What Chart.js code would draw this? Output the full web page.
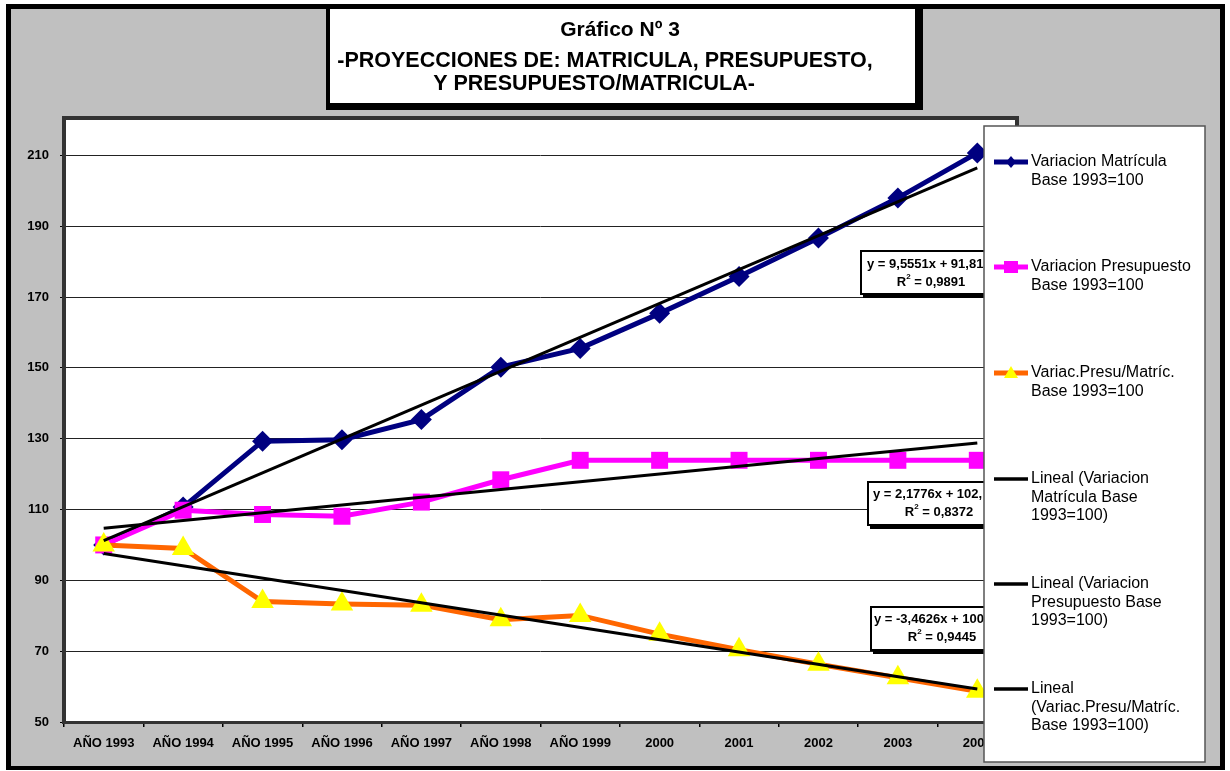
<!DOCTYPE html>
<html>
<head>
<meta charset="utf-8">
<title>Gráfico Nº 3</title>
<script src="https://cdn.jsdelivr.net/npm/chart.js@4"></script>
<style>
  html, body { margin: 0; padding: 0; background: #fff; }
  canvas { display: block; }
</style>
</head>
<body>
<canvas id="myChart" width="1230" height="771"></canvas>
<script>
// Categorias del eje X
const categorias = ["AÑO 1993", "AÑO 1994", "AÑO 1995", "AÑO 1996", "AÑO 1997", "AÑO 1998", "AÑO 1999", "2000", "2001", "2002", "2003", "2004"];
// Series (base 1993 = 100)
const matricula = [100, 110.7, 129.3, 129.7, 135.4, 150.2, 155.5, 165.4, 175.8, 186.7, 198.0, 210.7];
const presupuesto = [100, 109.8, 108.6, 108.1, 112.1, 118.4, 123.9, 123.9, 123.9, 123.9, 123.9, 123.9];
const presuMatric = [100, 99.0, 84.0, 83.3, 83.0, 78.9, 80.1, 74.8, 70.4, 66.3, 62.5, 58.7];
// Lineas de tendencia: solo los extremos
const tendMatricula = [101.2, null, null, null, null, null, null, null, null, null, null, 206.5];
const tendPresupuesto = [104.7, null, null, null, null, null, null, null, null, null, null, 128.8];
const tendPresuMatric = [97.6, null, null, null, null, null, null, null, null, null, null, 59.3];
// Marcas del eje Y
const yTicks = [50, 70, 90, 110, 130, 150, 170, 190, 210];
// Textos de las ecuaciones de tendencia
const ecuaciones = ["y = 9,5551x + 91,81", "y = 2,1776x + 102,", "y = -3,4626x + 100"];
const r2 = ["0,9891", "0,8372", "0,9445"];
// Textos de la leyenda
const leyendaTextos = [
    ["Variacion Matrícula", "Base 1993=100"],
    ["Variacion Presupuesto", "Base 1993=100"],
    ["Variac.Presu/Matríc.", "Base 1993=100"],
    ["Lineal (Variacion", "Matrícula Base", "1993=100)"],
    ["Lineal (Variacion", "Presupuesto Base", "1993=100)"],
    ["Lineal", "(Variac.Presu/Matríc.", "Base 1993=100)"]
];

const FUENTE = "'Liberation Sans', Arial, sans-serif";
Chart.defaults.font.family = FUENTE;
Chart.defaults.color = "#000";

// Fondo: marco negro, gris, area de trazado blanca
const fondo = {
    id: "fondo",
    beforeDraw(chart) {
        let c = chart.ctx;
        c.save();
        c.fillStyle = "#fff";
        c.fillRect(0, 0, chart.width, chart.height);
        c.fillStyle = "#000";
        c.fillRect(6, 4, 1219, 766);
        c.fillStyle = "#c0c0c0";
        c.fillRect(11, 9, 1209, 757);
        c.fillStyle = "#fff";
        c.fillRect(64, 118, 953, 604);
        c.restore();
    },
    afterDatasetsDraw(chart) {
        // borde oscuro del area de trazado
        let c = chart.ctx;
        c.save();
        c.fillStyle = "#333";
        c.fillRect(62, 116, 957, 4);
        c.fillRect(62, 116, 4, 608);
        c.fillRect(1015, 116, 4, 608);
        c.fillRect(62, 721, 957, 3);
        c.restore();
    }
};

// marcador de la leyenda
function marca(c, tipo, x, y) {
    c.beginPath();
    if (tipo === "rombo") {
        c.fillStyle = "#000080";
        c.moveTo(x, y - 6); c.lineTo(x + 5, y); c.lineTo(x, y + 6); c.lineTo(x - 5, y);
    } else if (tipo === "cuadro") {
        c.fillStyle = "#ff00ff";
        c.rect(x - 7, y - 6, 14, 12);
    } else if (tipo === "triangulo") {
        c.fillStyle = "#ffff00";
        c.moveTo(x, y - 7); c.lineTo(x + 7, y + 5); c.lineTo(x - 7, y + 5);
    }
    c.closePath();
    c.fill();
}

// Titulo, ecuaciones y leyenda
const extras = {
    id: "extras",
    afterDraw(chart) {
        let c = chart.ctx;
        c.save();

        // caja del titulo
        c.fillStyle = "#000";
        c.fillRect(326, 4, 597, 106);
        c.fillStyle = "#fff";
        c.fillRect(330, 9, 585, 94);
        c.fillStyle = "#000";
        c.textAlign = "center";
        c.textBaseline = "middle";
        c.font = "bold 21px " + FUENTE;
        c.fillText("Gráfico Nº 3", 620, 30);
        c.font = "bold 21.5px " + FUENTE;
        c.fillText("-PROYECCIONES DE: MATRICULA, PRESUPUESTO,", 605, 61);
        c.fillText("Y PRESUPUESTO/MATRICULA-", 594, 84);

        // cajas de las ecuaciones
        let cajas = [
            {x: 860, y: 250, tx: 867, cx: 931, y1: 264, y2: 282},
            {x: 867, y: 481, tx: 873, cx: 939, y1: 494, y2: 512},
            {x: 870, y: 606, tx: 874, cx: 942, y1: 619, y2: 637}
        ];
        cajas.forEach(function (b, i) {
            c.fillStyle = "#000";
            c.fillRect(b.x + 3, b.y + 3, 142, 45);
            c.fillStyle = "#fff";
            c.fillRect(b.x, b.y, 142, 45);
            c.strokeStyle = "#000";
            c.lineWidth = 2;
            c.strokeRect(b.x + 1, b.y + 1, 140, 43);
            c.fillStyle = "#000";
            c.font = "bold 13px " + FUENTE;
            c.textAlign = "left";
            c.fillText(ecuaciones[i], b.tx, b.y1);
            // R² con superindice
            let resto = " = " + r2[i];
            let wR = c.measureText("R").width;
            let wResto = c.measureText(resto).width;
            c.font = "bold 8px " + FUENTE;
            let w2 = c.measureText("2").width;
            let x0 = b.cx - (wR + w2 + wResto) / 2;
            c.font = "bold 13px " + FUENTE;
            c.fillText("R", x0, b.y2);
            c.fillText(resto, x0 + wR + w2, b.y2);
            c.font = "bold 8px " + FUENTE;
            c.fillText("2", x0 + wR, b.y2 - 5);
        });

        // leyenda
        c.fillStyle = "#fff";
        c.fillRect(984, 126, 221, 636);
        c.strokeStyle = "#555";
        c.lineWidth = 1.5;
        c.strokeRect(984, 126, 221, 636);
        let entradas = [
            {color: "#000080", tipo: "rombo", y: 162},
            {color: "#ff00ff", tipo: "cuadro", y: 267},
            {color: "#ff6600", tipo: "triangulo", y: 373},
            {color: "#000", tipo: null, y: 479},
            {color: "#000", tipo: null, y: 584},
            {color: "#000", tipo: null, y: 689}
        ];
        c.font = "16px " + FUENTE;
        c.textAlign = "left";
        c.textBaseline = "middle";
        entradas.forEach(function (e, i) {
            c.strokeStyle = e.color;
            c.lineWidth = e.tipo ? 5 : 3.5;
            c.beginPath();
            c.moveTo(994, e.y);
            c.lineTo(1028, e.y);
            c.stroke();
            if (e.tipo) marca(c, e.tipo, 1011, e.y);
            c.fillStyle = "#000";
            leyendaTextos[i].forEach(function (t, k) {
                c.fillText(t, 1031, e.y + k * 18.3);
            });
        });
        c.restore();
    }
};

let ctx = document.getElementById("myChart").getContext("2d");
let chart = new Chart(ctx, {
    type: "line",
    data: {
        labels: categorias,
        datasets: [
            {
                label: "Variacion Matrícula Base 1993=100",
                data: matricula,
                borderColor: "#000080",
                backgroundColor: "#000080",
                borderWidth: 5,
                pointStyle: "rectRot",
                pointRadius: 10.5,
                pointBorderWidth: 0,
                order: 3
            },
            {
                label: "Variacion Presupuesto Base 1993=100",
                data: presupuesto,
                borderColor: "#ff00ff",
                backgroundColor: "#ff00ff",
                borderWidth: 5,
                pointStyle: "rect",
                pointRadius: 12,
                pointBorderWidth: 0,
                order: 2
            },
            {
                label: "Variac.Presu/Matríc. Base 1993=100",
                data: presuMatric,
                borderColor: "#ff6600",
                backgroundColor: "#ffff00",
                pointBorderColor: "#ffff00",
                borderWidth: 5,
                pointStyle: "triangle",
                pointRadius: 13,
                pointBorderWidth: 0,
                order: 1
            },
            {
                label: "Lineal (Variacion Matrícula Base 1993=100)",
                data: tendMatricula,
                borderColor: "#000",
                borderWidth: 3,
                pointRadius: 0,
                spanGaps: true,
                order: 0
            },
            {
                label: "Lineal (Variacion Presupuesto Base 1993=100)",
                data: tendPresupuesto,
                borderColor: "#000",
                borderWidth: 3,
                pointRadius: 0,
                spanGaps: true,
                order: 0
            },
            {
                label: "Lineal (Variac.Presu/Matríc. Base 1993=100)",
                data: tendPresuMatric,
                borderColor: "#000",
                borderWidth: 3,
                pointRadius: 0,
                spanGaps: true,
                order: 0
            }
        ]
    },
    options: {
        responsive: false,
        animation: false,
        events: [],
        layout: { padding: { top: 120, right: 213, left: 0, bottom: 0 } },
        plugins: {
            legend: { display: false },
            title: { display: false },
            tooltip: { enabled: false }
        },
        elements: { line: { tension: 0 } },
        scales: {
            x: {
                offset: true,
                afterFit: function (scale) { scale.height = 49; },
                grid: {
                    offset: true,
                    drawOnChartArea: false,
                    drawTicks: true,
                    tickLength: 5,
                    tickColor: "#000",
                    lineWidth: 1.5
                },
                border: { display: false },
                ticks: {
                    maxRotation: 0,
                    autoSkip: false,
                    padding: 9,
                    color: "#000",
                    font: { size: 13, weight: "bold" }
                }
            },
            y: {
                min: 50,
                max: 220,
                afterFit: function (scale) { scale.width = 64; },
                afterBuildTicks: function (axis) {
                    axis.ticks = yTicks.map(function (v) { return { value: v }; });
                },
                grid: {
                    color: "#222",
                    lineWidth: 1,
                    tickLength: 4,
                    tickColor: "#000"
                },
                border: { display: false },
                ticks: {
                    padding: 11,
                    color: "#000",
                    font: { size: 13, weight: "bold" }
                }
            }
        }
    },
    plugins: [fondo, extras]
});
</script>
</body>
</html>
